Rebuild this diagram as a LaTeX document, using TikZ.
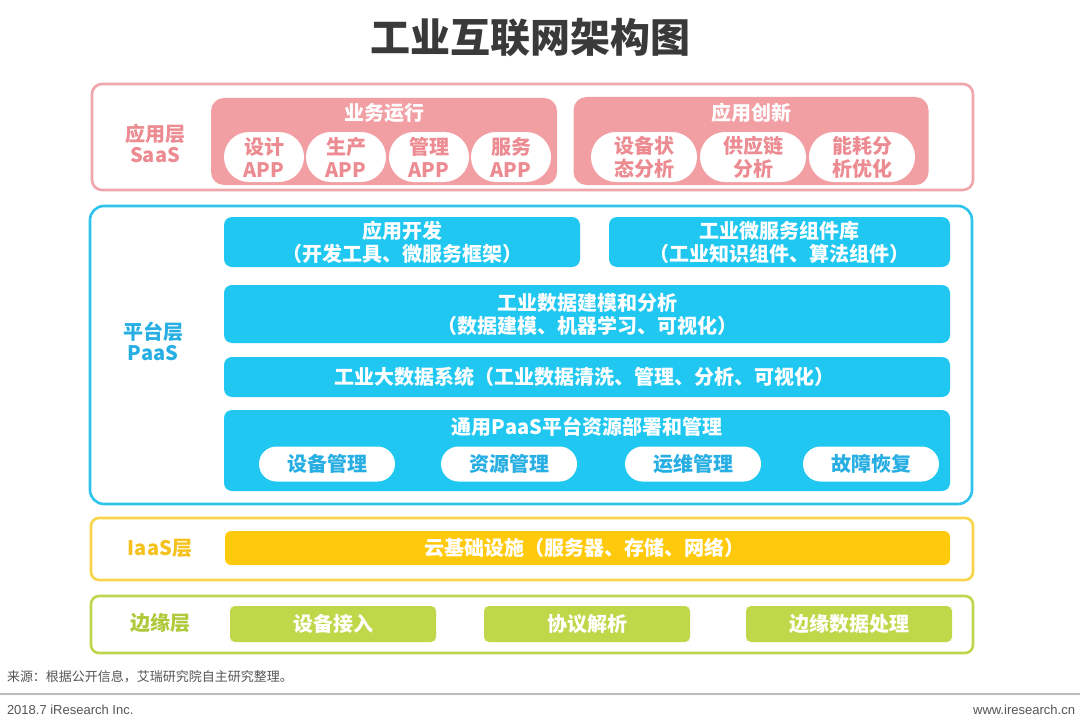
\documentclass[tikz,border=0pt]{standalone}
\usepackage{fontspec}
\setmainfont{Noto Sans CJK SC}
\newfontfamily\latinf{Liberation Sans}
\usetikzlibrary{shapes.misc}
\definecolor{titlegray}{HTML}{3A3A3A}
\definecolor{pinkline}{HTML}{F0A7AB}
\definecolor{pinkfill}{HTML}{F29FA3}
\definecolor{pinktext}{HTML}{EC8C92}
\definecolor{blueline}{HTML}{2DC3EC}
\definecolor{bluefill}{HTML}{1FC7F1}
\definecolor{bluetext}{HTML}{27AEE3}
\definecolor{yelline}{HTML}{F8D548}
\definecolor{yelfill}{HTML}{FFCA0C}
\definecolor{yeltext}{HTML}{F6C11C}
\definecolor{grnline}{HTML}{BCD64E}
\definecolor{grnfill}{HTML}{BFD849}
\definecolor{grntext}{HTML}{AECA3A}
\definecolor{foottext}{HTML}{555555}
\definecolor{footline}{HTML}{BBBBBB}
\tikzset{
  every node/.style={inner sep=0pt, outer sep=0pt},
  outerbox/.style={draw, line width=2.6pt, rounded corners=10pt, fill=white},
  fillbox/.style={rounded corners=8pt},
  bigtxt/.style={font=\bfseries\fontsize{20}{23}\selectfont, align=center},
  wtxt/.style={bigtxt, text=white},
  lbl/.style={font=\bfseries\fontsize{20}{21}\selectfont, align=center},
  pill/.style={rounded rectangle, fill=white, bigtxt}
}
\begin{document}
\begin{tikzpicture}[x=1pt,y=-1pt]
\useasboundingbox[fill=white] (0,0) rectangle (1080,725);
\node[font=\bfseries\fontsize{40}{44}\selectfont, text=titlegray] (title) at (530,38) {工业互联网架构图};

% SaaS layer
\node[outerbox, draw=pinkline, minimum width=881, minimum height=106] (saas) at (532.5,137) {};
\node[lbl, text=pinktext] (saaslbl) at (155,143) {应用层\\SaaS};
\node[fillbox, fill=pinkfill, rounded corners=13pt, minimum width=346, minimum height=87] (yw) at (384,141.5) {};
\node[wtxt] (ywt) at (384,113) {业务运行};
\foreach \x/\t [count=\i] in {264/设计,346/生产,429/管理,511/服务}
  \node[pill, text=pinktext, minimum width=80, minimum height=50] (app\i) at (\x,157) {\t\\APP};
\node[fillbox, fill=pinkfill, rounded corners=13pt, minimum width=355, minimum height=88] (cx) at (751,141) {};
\node[wtxt] (cxt) at (751,113) {应用创新};
\node[pill, text=pinktext, minimum width=106, minimum height=50] (inn1) at (644,157) {设备状\\态分析};
\node[pill, text=pinktext, minimum width=106, minimum height=50] (inn2) at (753,157) {供应链\\分析};
\node[pill, text=pinktext, minimum width=106, minimum height=50] (inn3) at (862,157) {能耗分\\析优化};

% PaaS layer
\node[outerbox, draw=blueline, rounded corners=14pt, minimum width=882, minimum height=298] (paas) at (531,355) {};
\node[lbl, text=bluetext] (paaslbl) at (153,341) {平台层\\PaaS};
\node[fillbox, fill=bluefill, minimum width=356, minimum height=50] (dev) at (402,242) {};
\node[wtxt] (devt) at (402,242) {应用开发\\（开发工具、微服务框架）};
\node[fillbox, fill=bluefill, minimum width=341, minimum height=50] (ms) at (779.5,242) {};
\node[wtxt] (mst) at (779.5,242) {工业微服务组件库\\（工业知识组件、算法组件）};
\node[fillbox, fill=bluefill, minimum width=726, minimum height=58] (dm) at (587,314) {};
\node[wtxt] (dmt) at (587,314) {工业数据建模和分析\\（数据建模、机器学习、可视化）};
\node[fillbox, fill=bluefill, minimum width=726, minimum height=40] (bd) at (587,377) {};
\node[wtxt] (bdt) at (584,377) {工业大数据系统（工业数据清洗、管理、分析、可视化）};
\node[fillbox, fill=bluefill, minimum width=726, minimum height=81] (gp) at (587,450.5) {};
\node[wtxt] (gpt) at (587,427) {通用PaaS平台资源部署和管理};
\foreach \x/\t [count=\i] in {327/设备管理,509/资源管理,693/运维管理,871/故障恢复}
  \node[pill, text=bluetext, minimum width=136, minimum height=35] (res\i) at (\x,464) {\t};

% IaaS layer
\node[outerbox, draw=yelline, rounded corners=8pt, minimum width=882, minimum height=62] (iaas) at (532,549) {};
\node[lbl, text=yeltext] (iaaslbl) at (160,548) {IaaS层};
\node[fillbox, fill=yelfill, rounded corners=6pt, minimum width=725, minimum height=34] (cloud) at (587.5,548) {};
\node[wtxt] (cloudt) at (584,548) {云基础设施（服务器、存储、网络）};

% Edge layer
\node[outerbox, draw=grnline, rounded corners=8pt, minimum width=882, minimum height=57] (edge) at (532,624.5) {};
\node[lbl, text=grntext] (edgelbl) at (160,623) {边缘层};
\foreach \x/\t [count=\i] in {333/设备接入,587/协议解析,849/边缘数据处理}
  \node[fillbox, fill=grnfill, rounded corners=5pt, minimum width=206, minimum height=36, wtxt] (eg\i) at (\x,624) {\t};

% footer
\node[anchor=west, font=\fontsize{13}{15}\selectfont, text=foottext] (src) at (7,677) {来源：根据公开信息，艾瑞研究院自主研究整理。};
\coordinate (fl1) at (0,694);
\coordinate (fl2) at (1080,694);
\draw[footline, line width=1.2pt] (fl1) -- (fl2);
\node[anchor=west, font=\latinf\fontsize{13}{15}\selectfont, text=foottext] (copy) at (7,710) {2018.7 iResearch Inc.};
\node[anchor=east, font=\latinf\fontsize{13}{15}\selectfont, text=foottext] (web) at (1075,710) {www.iresearch.cn};
\end{tikzpicture}
\end{document}
